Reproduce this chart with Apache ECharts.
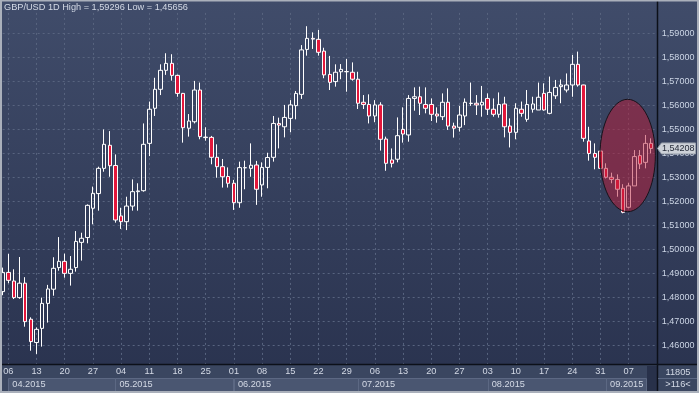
<!DOCTYPE html>
<html><head><meta charset="utf-8">
<script src="https://cdn.jsdelivr.net/npm/echarts@6/dist/echarts.min.js"></script>
<style>html,body{margin:0;padding:0;background:#2f3957;overflow:hidden}#c{width:699px;height:393px}</style>
</head><body><div id="c"></div>
<script>
const dates = [
'2015-04-03','2015-04-06','2015-04-07','2015-04-08','2015-04-09','2015-04-10','2015-04-13','2015-04-14','2015-04-15','2015-04-16','2015-04-17',
'2015-04-20','2015-04-21','2015-04-22','2015-04-23','2015-04-24','2015-04-27','2015-04-28','2015-04-29','2015-04-30','2015-05-01',
'2015-05-04','2015-05-05','2015-05-06','2015-05-07','2015-05-08','2015-05-11','2015-05-12','2015-05-13','2015-05-14','2015-05-15',
'2015-05-18','2015-05-19','2015-05-20','2015-05-21','2015-05-22','2015-05-25','2015-05-26','2015-05-27','2015-05-28','2015-05-29',
'2015-06-01','2015-06-02','2015-06-03','2015-06-04','2015-06-05','2015-06-08','2015-06-09','2015-06-10','2015-06-11','2015-06-12',
'2015-06-15','2015-06-16','2015-06-17','2015-06-18','2015-06-19','2015-06-22','2015-06-23','2015-06-24','2015-06-25','2015-06-26',
'2015-06-29','2015-06-30','2015-07-01','2015-07-02','2015-07-03','2015-07-06','2015-07-07','2015-07-08','2015-07-09','2015-07-10',
'2015-07-13','2015-07-14','2015-07-15','2015-07-16','2015-07-17','2015-07-20','2015-07-21','2015-07-22','2015-07-23','2015-07-24',
'2015-07-27','2015-07-28','2015-07-29','2015-07-30','2015-07-31','2015-08-03','2015-08-04','2015-08-05','2015-08-06','2015-08-07',
'2015-08-10','2015-08-11','2015-08-12','2015-08-13','2015-08-14','2015-08-17','2015-08-18','2015-08-19','2015-08-20','2015-08-21',
'2015-08-24','2015-08-25','2015-08-26','2015-08-27','2015-08-28','2015-08-31','2015-09-01','2015-09-02','2015-09-03','2015-09-04',
'2015-09-07','2015-09-08','2015-09-09','2015-09-10','2015-09-11'];

const opens = [
1.4825,1.4905,1.4869,1.4800,1.4860,1.4710,1.4613,1.4672,1.4776,1.4835,1.4925,
1.4951,1.4901,1.4925,1.5030,1.5050,1.5172,1.5233,1.5338,1.5434,1.5350,
1.5140,1.5116,1.5181,1.5241,1.5245,1.5442,1.5588,1.5667,1.5746,1.5775,
1.5725,1.5650,1.5505,1.5532,1.5664,1.5466,1.5467,1.5384,1.5345,1.5304,
1.5276,1.5195,1.5340,1.5338,1.5352,1.5269,1.5342,1.5384,1.5525,1.5511,
1.5546,1.5599,1.5646,1.5833,1.5879,1.5875,1.5826,1.5729,1.5699,1.5740,
1.5741,1.5738,1.5709,1.5613,1.5604,1.5556,1.5602,1.5460,1.5373,1.5376,
1.5500,1.5477,1.5629,1.5636,1.5604,1.5604,1.5564,1.5553,1.5613,1.5514,
1.5509,1.5556,1.5608,1.5609,1.5602,1.5629,1.5584,1.5563,1.5606,1.5514,
1.5488,1.5584,1.5542,1.5584,1.5581,1.5650,1.5567,1.5640,1.5678,1.5664,
1.5685,1.5771,1.5685,1.5452,1.5400,1.5410,1.5338,1.5301,1.5292,1.5255,
1.5176,1.5265,1.5391,1.5363,1.5442];

const closes = [
1.4905,1.4872,1.4800,1.4860,1.4700,1.4617,1.4668,1.4776,1.4836,1.4922,1.4951,
1.4901,1.4918,1.5034,1.5047,1.5184,1.5234,1.5338,1.5438,1.5349,1.5123,
1.5116,1.5181,1.5241,1.5244,1.5438,1.5584,1.5667,1.5746,1.5775,1.5725,
1.5650,1.5507,1.5535,1.5664,1.5470,1.5468,1.5384,1.5345,1.5303,1.5276,
1.5195,1.5341,1.5341,1.5351,1.5251,1.5342,1.5383,1.5525,1.5518,1.5550,
1.5602,1.5650,1.5831,1.5879,1.5876,1.5821,1.5727,1.5696,1.5738,1.5750,
1.5740,1.5709,1.5609,1.5604,1.5556,1.5602,1.5459,1.5359,1.5359,1.5474,
1.5481,1.5629,1.5636,1.5609,1.5588,1.5563,1.5556,1.5613,1.5514,1.5505,
1.5560,1.5613,1.5609,1.5602,1.5613,1.5584,1.5563,1.5604,1.5511,1.5488,
1.5588,1.5567,1.5604,1.5606,1.5634,1.5581,1.5654,1.5675,1.5685,1.5685,
1.5771,1.5685,1.5463,1.5400,1.5384,1.5338,1.5301,1.5292,1.5251,1.5155,
1.5265,1.5387,1.5356,1.5442,1.54208];

const lows = [
1.4810,1.4860,1.4794,1.4795,1.4679,1.4579,1.45656,1.4596,1.4696,1.4808,1.4912,
1.4883,1.4850,1.4908,1.4954,1.5026,1.5105,1.5162,1.5324,1.5303,1.5112,
1.5086,1.5081,1.5162,1.5162,1.5241,1.5389,1.5556,1.5643,1.5727,1.5703,
1.5636,1.5445,1.5470,1.5525,1.5459,1.5453,1.5355,1.5299,1.5258,1.5258,
1.5165,1.5174,1.5251,1.5303,1.5186,1.5220,1.5255,1.5366,1.5421,1.5467,
1.5488,1.5542,1.5627,1.5807,1.5835,1.5807,1.5713,1.5664,1.5678,1.5709,
1.5657,1.5703,1.5585,1.5585,1.5525,1.5530,1.5412,1.5328,1.5342,1.5363,
1.5445,1.5449,1.5578,1.5560,1.5567,1.5535,1.5528,1.5539,1.5498,1.5466,
1.5491,1.5518,1.5598,1.5560,1.5553,1.5560,1.5553,1.5549,1.5467,1.5425,
1.5459,1.5553,1.5532,1.5570,1.5581,1.5578,1.5563,1.5627,1.5609,1.5654,
1.5636,1.5678,1.5449,1.5370,1.5334,1.5335,1.5296,1.5276,1.5220,1.5151,
1.5172,1.5265,1.5335,1.5338,1.5400];

const highs = [
1.4925,1.4982,1.4918,1.4969,1.4885,1.4718,1.4676,1.4800,1.4853,1.4968,1.5052,
1.4983,1.4973,1.5077,1.5070,1.5188,1.5262,1.5345,1.5500,1.5493,1.5396,
1.5174,1.5220,1.5292,1.5276,1.5525,1.5616,1.5715,1.5771,1.5817,1.5813,
1.5728,1.5652,1.5564,1.5702,1.5695,1.5509,1.5473,1.5438,1.5377,1.5342,
1.5290,1.5366,1.5370,1.5442,1.5369,1.5363,1.5403,1.5556,1.5549,1.5602,
1.5622,1.5660,1.5851,1.59296,1.5904,1.5914,1.5840,1.5806,1.5771,1.5772,
1.5793,1.5779,1.5740,1.5643,1.5646,1.5622,1.5613,1.5470,1.5421,1.5550,
1.5592,1.5643,1.5675,1.5678,1.5675,1.5629,1.5592,1.5650,1.5671,1.5528,
1.5598,1.5629,1.5695,1.5643,1.5681,1.5650,1.5629,1.5654,1.5636,1.5546,
1.5609,1.5616,1.5664,1.5636,1.5695,1.5692,1.5720,1.5706,1.5708,1.5733,
1.5810,1.5824,1.5686,1.5511,1.5442,1.5412,1.5359,1.5320,1.5313,1.5272,
1.5278,1.5414,1.5414,1.5477,1.5463];

const monthLabels = ['04.2015','05.2015','06.2015','07.2015','08.2015','09.2015'];
const yMin = 1.45, yMax = 1.5985, yStep = 0.01;
const infoTop = '11805', infoBottom = '>116<';
const symbolName = 'GBP/USD 1D';

const FONT = '"Liberation Sans", Arial, sans-serif';
const FS = 9.2;
const TXT = '#d4dae6';
const GRID_L = 2.66, GRID_RIGHT_X = 656.86;
const fmt = v => v.toFixed(5).replace('.', ',');
const isMonday = s => !!s && new Date(s + 'T00:00:00Z').getUTCDay() === 1;
const cats = dates.concat(['']);
const ohlc = dates.map((d, i) => [opens[i], closes[i], lows[i], highs[i]]);
const gridLine = { color: '#58647f', width: 1, type: [2, 3] };

const chart = echarts.init(document.getElementById('c'), null, { renderer: 'canvas', width: 699, height: 393 });
chart.setOption({
  animation: false,
  backgroundColor: 'transparent',
  title: {
    text: symbolName + ' High = ' + fmt(Math.max(...highs)) + ' Low = ' + fmt(Math.min(...lows)),
    left: 4, top: 3, padding: 0,
    textStyle: { color: TXT, fontSize: FS, fontWeight: 'normal', fontFamily: FONT }
  },
  grid: [
    { left: GRID_L, right: 699 - GRID_RIGHT_X, top: 12.9, bottom: 23.3 },
    { left: GRID_L, right: 699 - GRID_RIGHT_X, top: 364, height: 1 }
  ],
  xAxis: [
    { type: 'category', gridIndex: 0, data: cats, boundaryGap: false,
      axisLine: { show: false }, axisTick: { show: false }, axisLabel: { show: false },
      splitLine: { show: true, interval: (i, v) => isMonday(v), lineStyle: gridLine } },
    { type: 'category', gridIndex: 1, data: cats, boundaryGap: false,
      axisLine: { show: false }, axisTick: { show: false }, splitLine: { show: false },
      axisLabel: { show: true, interval: (i, v) => isMonday(v), formatter: v => v.slice(8, 10),
        color: TXT, fontSize: FS, fontFamily: FONT, margin: 2 }, z: 60 }
  ],
  yAxis: [
    { type: 'value', gridIndex: 0, position: 'right', min: yMin, max: yMax, interval: yStep,
      axisLine: { show: false }, axisTick: { show: false },
      axisLabel: { formatter: fmt, color: '#cdd6e6', fontSize: 9, fontFamily: FONT, margin: 5,
        showMinLabel: false, showMaxLabel: false },
      splitLine: { show: true, showMinLine: false, showMaxLine: false, lineStyle: gridLine } },
    { type: 'value', gridIndex: 1, show: false }
  ],
  series: [{
    type: 'candlestick', xAxisIndex: 0, yAxisIndex: 0, data: ohlc, barWidth: 4,
    itemStyle: { color: 'rgba(0,0,0,0)', color0: '#e3173b', borderColor: '#ffffff', borderColor0: '#ffffff', borderWidth: 1 }
  }]
});

const px = (i, v) => chart.convertToPixel({ xAxisIndex: 0, yAxisIndex: 0 }, [i, v]);
const g = [];
g.push({ type: 'rect', z: -100, shape: { x: 0, y: 0, width: 699, height: 393 },
  style: { fill: new echarts.graphic.LinearGradient(0, 0, 0, 1, [{ offset: 0, color: '#404c6a' }, { offset: 1, color: '#29324e' }]) } });
// bottom band
g.push({ type: 'rect', z: 50, shape: { x: 0, y: 364, width: 699, height: 29 }, style: { fill: '#3a4660' } });
// month boxes
const starts = [];
dates.forEach((d, i) => { if (i === 0 || d.slice(5, 7) !== dates[i - 1].slice(5, 7)) starts.push(i); });
starts.forEach((s, k) => {
  const x0 = Math.max(px(s, yMin)[0], 8.3);
  const x1 = k + 1 < starts.length ? Math.max(px(starts[k + 1], yMin)[0], 8.3) : 646;
  g.push({ type: 'rect', z: 51, shape: { x: Math.round(x0) + 0.5, y: 378.5, width: Math.round(x1 - x0), height: 13 },
    style: { fill: '#4a5671', stroke: '#5c6883', lineWidth: 1 } });
  g.push({ type: 'text', z: 52, x: x0 + 4, y: 384.8,
    style: { text: monthLabels[k], fill: TXT, font: FS + 'px ' + FONT, verticalAlign: 'middle' } });
});
// scroll block
g.push({ type: 'rect', z: 52, shape: { x: 647, y: 366, width: 10, height: 25 }, style: { fill: '#28314a' } });
// separators
g.push({ type: 'line', z: 55, shape: { x1: 0, y1: 364.5, x2: 699, y2: 364.5 }, style: { stroke: '#0c1019', lineWidth: 1.5 } });
g.push({ type: 'line', z: 55, shape: { x1: 657.5, y1: 0, x2: 657.5, y2: 393 }, style: { stroke: '#0c1019', lineWidth: 1.5 } });
// info box
g.push({ type: 'line', z: 55, shape: { x1: 658, y1: 378.5, x2: 697, y2: 378.5 }, style: { stroke: '#5c6883', lineWidth: 1 } });
g.push({ type: 'text', z: 56, x: 678, y: 372, style: { text: infoTop, fill: TXT, font: FS + 'px ' + FONT, align: 'center', verticalAlign: 'middle' } });
g.push({ type: 'text', z: 56, x: 678, y: 384.8, style: { text: infoBottom, fill: TXT, font: FS + 'px ' + FONT, align: 'center', verticalAlign: 'middle' } });
// ellipse highlight
const ec = px(111, 1.53915);
const ecx = ec[0] - 1;
g.push({ type: 'ellipse', z: 20, shape: { cx: ecx, cy: ec[1], rx: 27.7, ry: 56.2 },
  style: { fill: 'rgba(190,28,55,0.5)', stroke: '#16121a', lineWidth: 1 } });
// last price tag
const last = closes[closes.length - 1];
const ly = px(0, last)[1];
g.push({ type: 'polygon', z: 60, shape: { points: [[657.5, ly], [661.5, ly - 5.5], [695.5, ly - 5.5], [695.5, ly + 5.5], [661.5, ly + 5.5]] },
  style: { fill: '#cdd1d8', stroke: '#9aa1ad', lineWidth: 1 } });
g.push({ type: 'text', z: 61, x: 662, y: ly + 0.5, style: { text: fmt(last), fill: '#1f2533', font: '9px ' + FONT, verticalAlign: 'middle' } });
// outer frame
g.push({ type: 'rect', z: 70, shape: { x: 1, y: 0.5, width: 697, height: 391.5 }, style: { fill: 'none', stroke: '#aab0bb', lineWidth: 2 } });
chart.setOption({ graphic: g });
</script>
</body></html>
